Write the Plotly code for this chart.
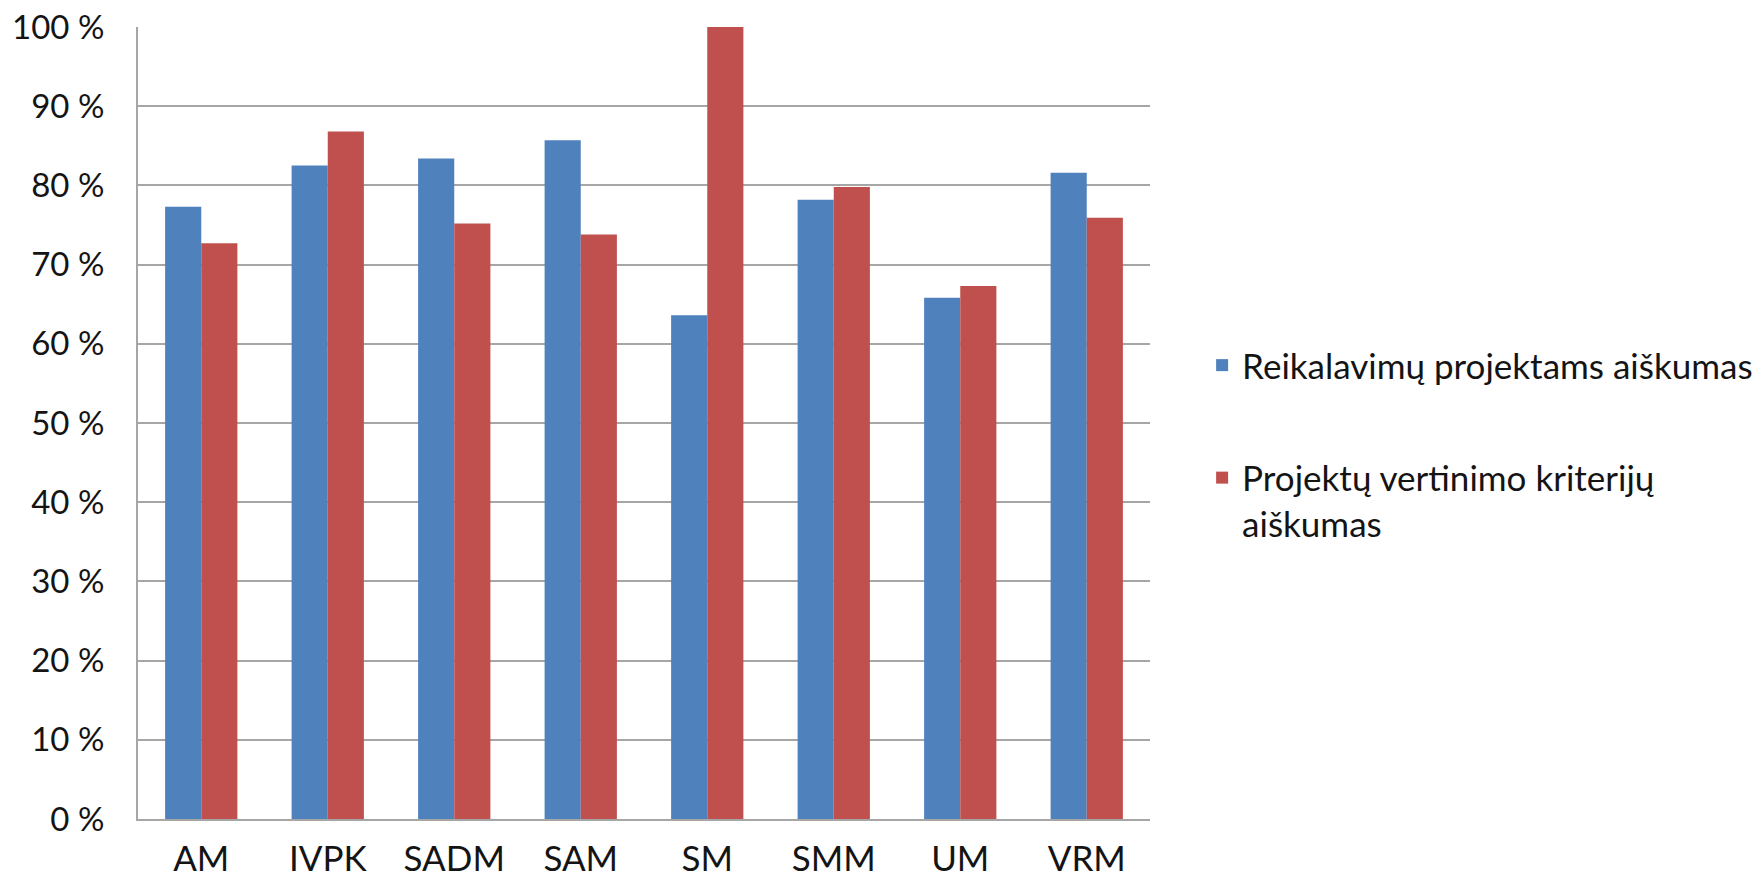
import plotly.graph_objects as go

categories = ["AM", "IVPK", "SADM", "SAM", "SM", "SMM", "UM", "VRM"]
series_names = ["Reikalavimų projektams aiškumas", "Projektų vertinimo kriterijų<br>aiškumas"]
reikalavimu = [77.3, 82.5, 83.4, 85.7, 63.6, 78.2, 65.8, 81.6]
kriteriju = [72.7, 86.8, 75.2, 73.8, 100.0, 79.8, 67.3, 75.9]
y_ticks = [0, 10, 20, 30, 40, 50, 60, 70, 80, 90, 100]
y_tick_labels = [f"{v} %" for v in y_ticks]

FONT = "Lato, 'Liberation Sans Narrow', sans-serif"
TXT = "#141414"
GRID = "#a6a6a6"

fig = go.Figure()
fig.add_trace(go.Bar(x=categories, y=reikalavimu, name=series_names[0],
                     marker=dict(color="#4F81BD", line=dict(width=0)),
                     legendgroup="a"))
fig.add_trace(go.Bar(x=categories, y=kriteriju, name=series_names[1],
                     marker=dict(color="#C0504D", line=dict(width=0)),
                     legendgroup="b"))

fig.update_layout(
    width=1764, height=880,
    margin=dict(l=138, r=614, t=27, b=61, autoexpand=False),
    paper_bgcolor="white", plot_bgcolor="white",
    barmode="group", bargap=0.4286, bargroupgap=0,
    font=dict(family=FONT, size=33, color=TXT),
    showlegend=True,
    legend=dict(
        x=1.0515, xanchor="left", y=0.61, yanchor="top",
        font=dict(family=FONT, size=35, color=TXT),
        tracegroupgap=64, valign="top",
        bgcolor="rgba(0,0,0,0)", borderwidth=0,
    ),
)
fig.update_xaxes(
    showgrid=False, showline=True, linecolor=GRID, linewidth=2,
    ticks="", ticklabelstandoff=8, automargin=False,
    tickfont=dict(family=FONT, size=35, color=TXT),
)
fig.update_yaxes(
    range=[0, 100], tickvals=y_ticks, ticktext=y_tick_labels,
    showgrid=True, gridcolor=GRID, gridwidth=2,
    showline=True, linecolor=GRID, linewidth=2,
    zeroline=False, ticks="", ticklabelstandoff=25, automargin=False,
    tickfont=dict(family=FONT, size=33, color=TXT),
)

fig.write_html(
    "out.html",
    config={"displayModeBar": False},
    post_script="document.body.style.margin='0';document.body.style.overflow='hidden';",
)
